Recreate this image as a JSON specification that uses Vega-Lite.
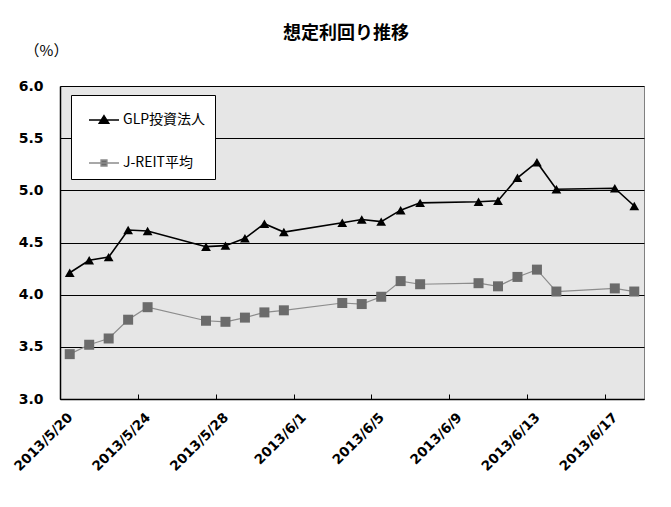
{
  "$schema": "https://vega.github.io/schema/vega-lite/v6.json",
  "autosize": {"type": "none"},
  "padding": {"left": 60, "top": 86, "right": 27, "bottom": 108},
  "width": 584,
  "height": 313,
  "background": "white",
  "title": {
    "text": "想定利回り推移",
    "font": "Noto Sans CJK JP",
    "fontSize": 18,
    "fontWeight": "bold",
    "color": "black",
    "anchor": "middle",
    "frame": "group",
    "baseline": "bottom",
    "dx": -6,
    "offset": -18
  },
  "config": {
    "view": {"fill": "#e6e6e6", "stroke": "#808080", "strokeWidth": 1}
  },
  "data": {
    "values": [
      {"d": "2013-05-20T12:00:00", "s": "GLP投資法人", "v": 4.21},
      {"d": "2013-05-21T12:00:00", "s": "GLP投資法人", "v": 4.33},
      {"d": "2013-05-22T12:00:00", "s": "GLP投資法人", "v": 4.36},
      {"d": "2013-05-23T12:00:00", "s": "GLP投資法人", "v": 4.62},
      {"d": "2013-05-24T12:00:00", "s": "GLP投資法人", "v": 4.61},
      {"d": "2013-05-27T12:00:00", "s": "GLP投資法人", "v": 4.46},
      {"d": "2013-05-28T12:00:00", "s": "GLP投資法人", "v": 4.47},
      {"d": "2013-05-29T12:00:00", "s": "GLP投資法人", "v": 4.54},
      {"d": "2013-05-30T12:00:00", "s": "GLP投資法人", "v": 4.68},
      {"d": "2013-05-31T12:00:00", "s": "GLP投資法人", "v": 4.60},
      {"d": "2013-06-03T12:00:00", "s": "GLP投資法人", "v": 4.69},
      {"d": "2013-06-04T12:00:00", "s": "GLP投資法人", "v": 4.72},
      {"d": "2013-06-05T12:00:00", "s": "GLP投資法人", "v": 4.70},
      {"d": "2013-06-06T12:00:00", "s": "GLP投資法人", "v": 4.81},
      {"d": "2013-06-07T12:00:00", "s": "GLP投資法人", "v": 4.88},
      {"d": "2013-06-10T12:00:00", "s": "GLP投資法人", "v": 4.89},
      {"d": "2013-06-11T12:00:00", "s": "GLP投資法人", "v": 4.90},
      {"d": "2013-06-12T12:00:00", "s": "GLP投資法人", "v": 5.12},
      {"d": "2013-06-13T12:00:00", "s": "GLP投資法人", "v": 5.27},
      {"d": "2013-06-14T12:00:00", "s": "GLP投資法人", "v": 5.01},
      {"d": "2013-06-17T12:00:00", "s": "GLP投資法人", "v": 5.02},
      {"d": "2013-06-18T12:00:00", "s": "GLP投資法人", "v": 4.85},
      {"d": "2013-05-20T12:00:00", "s": "J-REIT平均", "v": 3.43},
      {"d": "2013-05-21T12:00:00", "s": "J-REIT平均", "v": 3.52},
      {"d": "2013-05-22T12:00:00", "s": "J-REIT平均", "v": 3.58},
      {"d": "2013-05-23T12:00:00", "s": "J-REIT平均", "v": 3.76},
      {"d": "2013-05-24T12:00:00", "s": "J-REIT平均", "v": 3.88},
      {"d": "2013-05-27T12:00:00", "s": "J-REIT平均", "v": 3.75},
      {"d": "2013-05-28T12:00:00", "s": "J-REIT平均", "v": 3.74},
      {"d": "2013-05-29T12:00:00", "s": "J-REIT平均", "v": 3.78},
      {"d": "2013-05-30T12:00:00", "s": "J-REIT平均", "v": 3.83},
      {"d": "2013-05-31T12:00:00", "s": "J-REIT平均", "v": 3.85},
      {"d": "2013-06-03T12:00:00", "s": "J-REIT平均", "v": 3.92},
      {"d": "2013-06-04T12:00:00", "s": "J-REIT平均", "v": 3.91},
      {"d": "2013-06-05T12:00:00", "s": "J-REIT平均", "v": 3.98},
      {"d": "2013-06-06T12:00:00", "s": "J-REIT平均", "v": 4.13},
      {"d": "2013-06-07T12:00:00", "s": "J-REIT平均", "v": 4.10},
      {"d": "2013-06-10T12:00:00", "s": "J-REIT平均", "v": 4.11},
      {"d": "2013-06-11T12:00:00", "s": "J-REIT平均", "v": 4.08},
      {"d": "2013-06-12T12:00:00", "s": "J-REIT平均", "v": 4.17},
      {"d": "2013-06-13T12:00:00", "s": "J-REIT平均", "v": 4.24},
      {"d": "2013-06-14T12:00:00", "s": "J-REIT平均", "v": 4.03},
      {"d": "2013-06-17T12:00:00", "s": "J-REIT平均", "v": 4.06},
      {"d": "2013-06-18T12:00:00", "s": "J-REIT平均", "v": 4.03}
    ]
  },
  "encoding": {
    "x": {
      "field": "d",
      "type": "temporal",
      "scale": {
        "domain": [{"year": 2013, "month": 5, "date": 20}, {"year": 2013, "month": 6, "date": 19}],
        "nice": false
      },
      "axis": {
        "title": null,
        "grid": false,
        "values": [
          {"year": 2013, "month": 5, "date": 20},
          {"year": 2013, "month": 5, "date": 24},
          {"year": 2013, "month": 5, "date": 28},
          {"year": 2013, "month": 6, "date": 1},
          {"year": 2013, "month": 6, "date": 5},
          {"year": 2013, "month": 6, "date": 9},
          {"year": 2013, "month": 6, "date": 13},
          {"year": 2013, "month": 6, "date": 17}
        ],
        "format": "%Y/%-m/%-d",
        "labelAngle": -45,
        "labelAlign": "right",
        "labelBaseline": "middle",
        "labelOffset": 10,
        "labelPadding": 21,
        "labelFont": "DejaVu Sans",
        "labelFontWeight": "bold",
        "labelFontSize": 13.5,
        "labelColor": "black",
        "labelOverlap": false,
        "ticks": true,
        "tickSize": -5,
        "tickColor": "black",
        "domainColor": "black",
        "domainWidth": 1.5
      }
    },
    "y": {
      "field": "v",
      "type": "quantitative",
      "scale": {"domain": [3, 6], "nice": false, "zero": false},
      "axis": {
        "title": "（%）",
        "titleAngle": 0,
        "titleX": -14,
        "titleY": -36,
        "titleAlign": "center",
        "titleBaseline": "middle",
        "titleFont": "Noto Sans CJK JP",
        "titleFontSize": 15,
        "titleFontWeight": "normal",
        "titleColor": "black",
        "values": [3, 3.5, 4, 4.5, 5, 5.5, 6],
        "format": ".1f",
        "labelFont": "DejaVu Sans",
        "labelFontWeight": "bold",
        "labelFontSize": 14,
        "labelColor": "black",
        "labelPadding": 17,
        "ticks": false,
        "grid": true,
        "gridColor": "black",
        "gridWidth": 1.2,
        "domainColor": "black",
        "domainWidth": 1.5
      }
    }
  },
  "layer": [
    {
      "mark": {"type": "line"},
      "encoding": {
        "color": {
          "field": "s",
          "type": "nominal",
          "scale": {"domain": ["GLP投資法人", "J-REIT平均"], "range": ["#000000", "#8c8c8c"]},
          "legend": {
            "title": null,
            "orient": "none",
            "legendX": 11,
            "legendY": 9,
            "fillColor": "white",
            "strokeColor": "black",
            "padding": 9,
            "cornerRadius": 0,
            "symbolSize": 900,
            "symbolStrokeWidth": 1.3,
            "symbolOffset": 8,
            "labelOffset": 3,
            "rowPadding": 20,
            "labelFont": "Noto Sans CJK JP",
            "labelFontSize": 14,
            "labelColor": "black",
            "labelExpr": "datum.label + '\u00a0\u00a0\u00a0'",
            "encode": {
              "symbols": {
                "update": {
                  "shape": {"signal": "datum.value == 'GLP投資法人' ? 'M-1,0L1,0M0,-0.3L0.33,0.22L-0.33,0.22Z' : 'M-1,0L1,0M-0.2,-0.2L0.2,-0.2L0.2,0.2L-0.2,0.2Z'"},
                  "size": {"value": 900},
                  "fill": {"signal": "datum.value == 'GLP投資法人' ? '#000000' : '#6b6b6b'"},
                  "stroke": {"signal": "datum.value == 'GLP投資法人' ? '#000000' : '#8c8c8c'"},
                  "strokeWidth": {"value": 1.3},
                  "opacity": {"value": 1}
                }
              }
            }
          }
        },
        "strokeWidth": {
          "condition": {"test": "datum.s == 'GLP投資法人'", "value": 1.6},
          "value": 1.2
        }
      }
    },
    {
      "mark": {"type": "point", "filled": true, "opacity": 1},
      "encoding": {
        "shape": {
          "condition": {"test": "datum.s == 'GLP投資法人'", "value": "triangle-up"},
          "value": "square"
        },
        "fill": {
          "condition": {"test": "datum.s == 'GLP投資法人'", "value": "#000000"},
          "value": "#6b6b6b"
        },
        "size": {
          "condition": {"test": "datum.s == 'GLP投資法人'", "value": 95},
          "value": 100
        }
      }
    }
  ]
}
